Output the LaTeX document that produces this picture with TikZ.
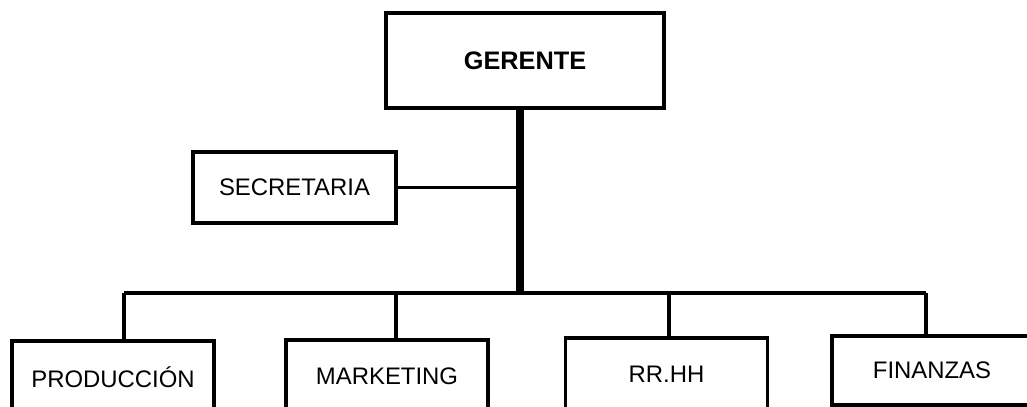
\documentclass[tikz,border=0pt]{standalone}
\usepackage{fontspec}
\setmainfont{Liberation Sans}
\begin{document}
\begin{tikzpicture}[x=0.025cm,y=-0.025cm,
  caja/.style={draw,line width=2.4pt,inner sep=0pt,minimum width=5.05cm,minimum height=1.8cm,font=\fontsize{17}{20}\selectfont},
  linea/.style={line width=2.4pt}]
  \useasboundingbox (0,0) rectangle (1027,407);
  \clip (0,0) rectangle (1027,407);
  \node[caja,minimum width=6.95cm,minimum height=2.375cm,font=\fontsize{18}{21}\selectfont\bfseries] (ger) at (525,60.5) {GERENTE};
  \node[caja,minimum width=5.075cm,minimum height=1.775cm] (sec) at (294.5,187.5) {SECRETARIA};
  \node[caja] (prod) at (113,377) {PRODUCCIÓN};
  \node[caja] (mark) at (387,376) {MARKETING};
  \node[caja] (rrhh) at (666.5,374) {RR.HH};
  \node[caja,minimum width=5cm,minimum height=1.725cm] (fin) at (932,370.5) {FINANZAS};
  % bus de departamentos
  \coordinate (tronco) at (520,293);
  \coordinate (b1) at (124,293);
  \coordinate (b2) at (396,293);
  \coordinate (b3) at (669,293);
  \coordinate (b4) at (926,293);
  \draw[line width=5.5pt] (ger.south -| tronco) -- (tronco);
  \draw[linea] (sec.east) -- (sec.east -| tronco);
  \draw[linea] (b1) -- (b4);
  \draw[linea] (b1) -- (b1 |- prod.north);
  \draw[linea] (b2) -- (b2 |- mark.north);
  \draw[linea] (b3) -- (b3 |- rrhh.north);
  \draw[linea] (b4) -- (b4 |- fin.north);
\end{tikzpicture}
\end{document}
